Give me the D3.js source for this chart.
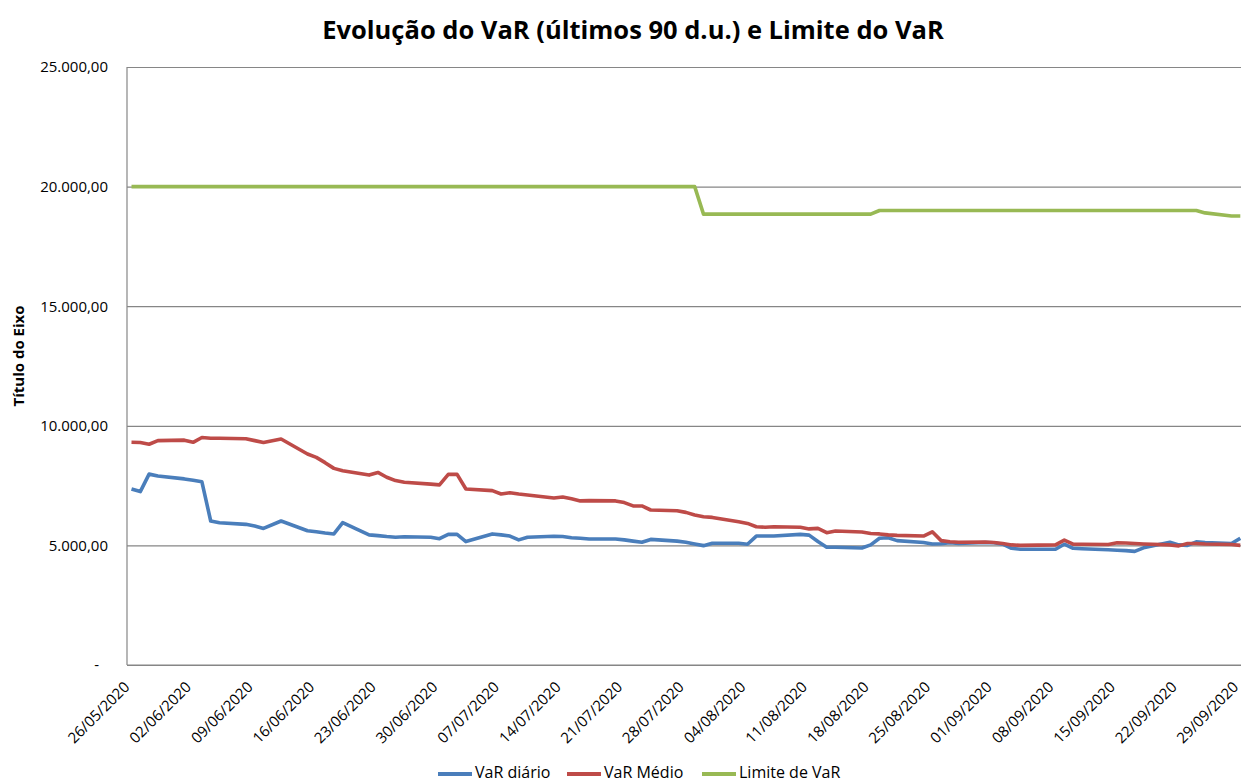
<!DOCTYPE html>
<html>
<head>
<meta charset="utf-8">
<script src="https://cdn.jsdelivr.net/npm/d3@7"></script>
<style>
  body { margin: 0; background: #fff; }
  text { font-family: "Open Sans", sans-serif; fill: #000; }
</style>
</head>
<body>
<div id="root"></div>
<script>
"use strict";

const dates = [
  "26/05/2020", "27/05/2020", "28/05/2020", "29/05/2020",
  "01/06/2020", "02/06/2020", "03/06/2020", "04/06/2020", "05/06/2020",
  "08/06/2020", "09/06/2020", "10/06/2020", "12/06/2020",
  "15/06/2020", "16/06/2020", "17/06/2020", "18/06/2020", "19/06/2020",
  "22/06/2020", "23/06/2020", "24/06/2020", "25/06/2020", "26/06/2020",
  "29/06/2020", "30/06/2020", "01/07/2020", "02/07/2020", "03/07/2020",
  "06/07/2020", "07/07/2020", "08/07/2020", "09/07/2020", "10/07/2020",
  "13/07/2020", "14/07/2020", "15/07/2020", "16/07/2020", "17/07/2020",
  "20/07/2020", "21/07/2020", "22/07/2020", "23/07/2020", "24/07/2020",
  "27/07/2020", "28/07/2020", "29/07/2020", "30/07/2020", "31/07/2020",
  "03/08/2020", "04/08/2020", "05/08/2020", "06/08/2020", "07/08/2020",
  "10/08/2020", "11/08/2020", "12/08/2020", "13/08/2020", "14/08/2020",
  "17/08/2020", "18/08/2020", "19/08/2020", "20/08/2020", "21/08/2020",
  "24/08/2020", "25/08/2020", "26/08/2020", "27/08/2020", "28/08/2020",
  "31/08/2020", "01/09/2020", "02/09/2020", "03/09/2020", "04/09/2020",
  "08/09/2020", "09/09/2020", "10/09/2020", "11/09/2020",
  "14/09/2020", "15/09/2020", "16/09/2020", "17/09/2020", "18/09/2020",
  "21/09/2020", "22/09/2020", "23/09/2020", "24/09/2020", "25/09/2020",
  "28/09/2020", "29/09/2020",
];

const varDiario = [
  7360, 7250, 7980, 7900,
  7780, 7720, 7660, 6020, 5950,
  5880, 5810, 5710, 6020,
  5610, 5570, 5520, 5480, 5950,
  5440, 5410, 5370, 5340, 5360,
  5340, 5280, 5460, 5460, 5160,
  5480, 5440, 5390, 5230, 5340,
  5380, 5370, 5320, 5300, 5270,
  5270, 5230, 5180, 5130, 5250,
  5180, 5130, 5060, 4990, 5090,
  5090, 5050, 5390, 5390, 5390,
  5460, 5430, 5160, 4920, 4920,
  4890, 5020, 5300, 5320, 5200,
  5120, 5060, 5070, 5110, 5080,
  5120, 5110, 5050, 4880, 4840,
  4840, 5050, 4880, 4860,
  4820, 4800, 4780, 4750, 4900,
  5130, 5020, 5000, 5150, 5120,
  5080, 5300,
];

const varMedio = [
  9310, 9300, 9230, 9380,
  9400, 9310, 9510, 9480, 9480,
  9460, 9380, 9300, 9450,
  8820, 8680, 8460, 8220, 8120,
  7940, 8050, 7850, 7710, 7640,
  7560, 7530, 7970, 7970, 7360,
  7290, 7150, 7200, 7150, 7110,
  6980, 7020, 6950, 6860, 6870,
  6860, 6790, 6650, 6650, 6480,
  6450, 6380, 6270, 6200, 6170,
  5990, 5920, 5780, 5760, 5780,
  5760, 5690, 5710, 5530, 5600,
  5560, 5500, 5480, 5440, 5420,
  5390, 5570, 5200, 5150, 5130,
  5140, 5120, 5080, 5020, 5000,
  5020, 5220, 5050, 5050,
  5040, 5110, 5100, 5080, 5060,
  5020, 4980, 5080, 5080, 5060,
  5040, 5000,
];

const limiteVar = [
  20000, 20000, 20000, 20000,
  20000, 20000, 20000, 20000, 20000,
  20000, 20000, 20000, 20000,
  20000, 20000, 20000, 20000, 20000,
  20000, 20000, 20000, 20000, 20000,
  20000, 20000, 20000, 20000, 20000,
  20000, 20000, 20000, 20000, 20000,
  20000, 20000, 20000, 20000, 20000,
  20000, 20000, 20000, 20000, 20000,
  20000, 20000, 20000, 18850, 18850,
  18850, 18850, 18850, 18850, 18850,
  18850, 18850, 18850, 18850, 18850,
  18850, 18850, 19000, 19000, 19000,
  19000, 19000, 19000, 19000, 19000,
  19000, 19000, 19000, 19000, 19000,
  19000, 19000, 19000, 19000,
  19000, 19000, 19000, 19000, 19000,
  19000, 19000, 19000, 19000, 18900,
  18770, 18770,
];

const tickLabels = [
  "26/05/2020", "02/06/2020", "09/06/2020", "16/06/2020", "23/06/2020",
  "30/06/2020", "07/07/2020", "14/07/2020", "21/07/2020", "28/07/2020",
  "04/08/2020", "11/08/2020", "18/08/2020", "25/08/2020", "01/09/2020",
  "08/09/2020", "15/09/2020", "22/09/2020", "29/09/2020",
];

const yTicks = [0, 5000, 10000, 15000, 20000, 25000];

const series = [
  { name: "VaR diário", values: varDiario, color: "#4a7ebb" },
  { name: "VaR Médio", values: varMedio, color: "#be4b48" },
  { name: "Limite de VaR", values: limiteVar, color: "#98b954" },
];

const width = 1241;
const height = 783;
const plot = { left: 127, top: 67, bottom: 665 };
const dayWidth = 8.8;
const firstX = 131.5;

const parse = d3.timeParse("%d/%m/%Y");
const parsedDates = dates.map(parse);
const from = parse(tickLabels[0]);
const to = parse(tickLabels[tickLabels.length - 1]);

const ScaleX = d3
  .scaleTime()
  .domain([from, to])
  .range([firstX, firstX + d3.timeDay.count(from, to) * dayWidth]);

const ScaleY = d3.scaleLinear().domain([0, 25000]).range([plot.bottom, plot.top]);

const br = d3.formatLocale({ decimal: ",", thousands: ".", grouping: [3], currency: ["R$", ""] });
const fmt = br.format(",.2f");

const svg = d3
  .select("#root")
  .append("svg")
  .attr("width", width)
  .attr("height", height)
  .style("display", "block");

svg.append("rect").attr("width", width).attr("height", height).attr("fill", "#fff");

svg
  .append("text")
  .attr("x", 633)
  .attr("y", 39)
  .attr("text-anchor", "middle")
  .style("font-size", "25.5px")
  .style("font-weight", "bold")
  .text("Evolução do VaR (últimos 90 d.u.) e Limite do VaR");

// grid + y axis
const yAxis = d3
  .axisLeft(ScaleY)
  .tickValues(yTicks)
  .tickSize(-(width - plot.left))
  .tickPadding(19)
  .tickFormat((d) => (d === 0 ? "-" : fmt(d)));

const gy = svg
  .append("g")
  .attr("id", "y-axis")
  .attr("transform", `translate(${plot.left}, 0)`)
  .call(yAxis);

gy.select(".domain").remove();
gy.selectAll(".tick line").attr("stroke", "#868686").attr("stroke-width", 1.2);
gy.selectAll(".tick text")
  .style("font-size", "15px")
  .attr("dx", (d) => (d === 0 ? -9 : 0));

svg
  .append("line")
  .attr("x1", plot.left)
  .attr("x2", plot.left)
  .attr("y1", plot.top)
  .attr("y2", plot.bottom)
  .attr("stroke", "#868686")
  .attr("stroke-width", 1.2);

// x axis
const xAxis = d3
  .axisBottom(ScaleX)
  .tickValues(tickLabels.map(parse))
  .tickSize(0)
  .tickFormat(d3.timeFormat("%d/%m/%Y"));

const gx = svg
  .append("g")
  .attr("id", "x-axis")
  .attr("transform", `translate(0, ${plot.bottom})`)
  .call(xAxis);

gx.select(".domain").remove();
gx.selectAll(".tick text")
  .style("font-size", "15px")
  .attr("text-anchor", "end")
  .attr("dy", null)
  .attr("y", 0)
  .attr("transform", "translate(-1.5, 23) rotate(-45)");

svg
  .append("line")
  .attr("x1", plot.left)
  .attr("x2", width)
  .attr("y1", plot.bottom)
  .attr("y2", plot.bottom)
  .attr("stroke", "#868686")
  .attr("stroke-width", 1.2);

svg
  .append("text")
  .attr("transform", "translate(24, 356) rotate(-90)")
  .attr("text-anchor", "middle")
  .style("font-size", "15px")
  .style("font-weight", "bold")
  .text("Título do Eixo");

// lines
const line = d3
  .line()
  .x((d, i) => ScaleX(parsedDates[i]))
  .y((d) => ScaleY(d));

svg
  .selectAll("path.serie")
  .data(series)
  .enter()
  .append("path")
  .attr("class", "serie")
  .attr("fill", "none")
  .attr("stroke", (d) => d.color)
  .attr("stroke-width", 3.6)
  .attr("stroke-linejoin", "round")
  .attr("d", (d) => line(d.values));

// legend
const legendX = [438, 567, 702];
const legend = svg
  .selectAll("g.legend")
  .data(series)
  .enter()
  .append("g")
  .attr("class", "legend")
  .attr("transform", (d, i) => `translate(${legendX[i]}, 774)`);

legend
  .append("line")
  .attr("x1", 0)
  .attr("x2", 34)
  .attr("stroke", (d) => d.color)
  .attr("stroke-width", 4);

legend
  .append("text")
  .attr("x", 37)
  .attr("y", 4)
  .style("font-size", "16px")
  .text((d) => d.name);
</script>
</body>
</html>
